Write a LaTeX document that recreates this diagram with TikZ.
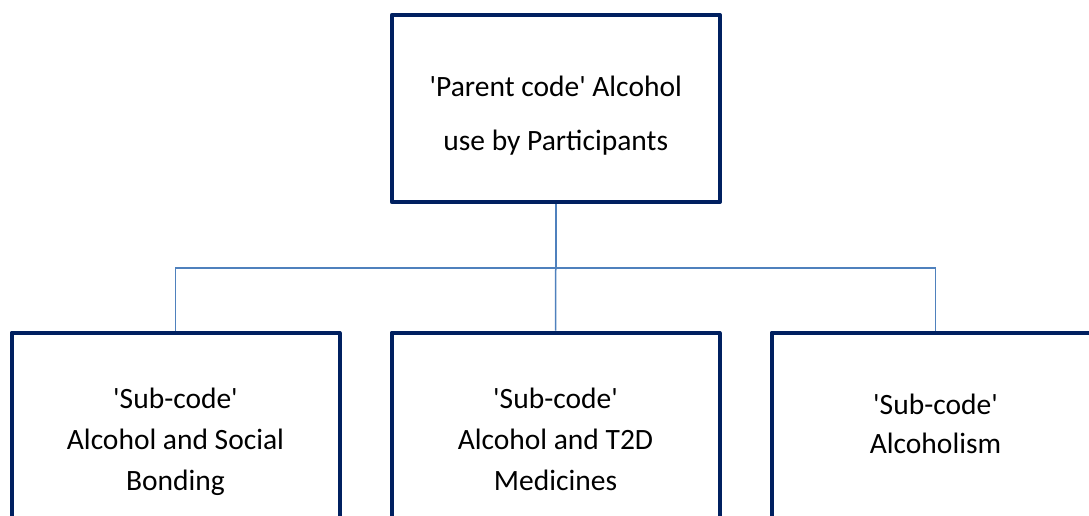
\documentclass[tikz,border=0pt]{standalone}
\usepackage{fontspec}
\setmainfont{Carlito}
\definecolor{boxnavy}{HTML}{002060}
\definecolor{linkblue}{HTML}{4F81BD}
\newcommand{\qs}{\textquotesingle}
\begin{document}
\begin{tikzpicture}[x=1pt,y=-1pt,
  codebox/.style={draw=boxnavy, line width=4pt, line join=round, rectangle,
    minimum width=328pt, minimum height=187pt, inner sep=0pt},
  txt/.style={anchor=base, inner sep=0pt, font=\fontsize{29.5}{34}\selectfont},
  link/.style={draw=linkblue, line width=1.5pt}]
\useasboundingbox (0,0) rectangle (1089,515);
\clip (0,0) rectangle (1089,515);

% parent code box
\node[codebox] (parent) at (555.75,108.5) {};
\node[txt] (p1) at (555.75,96.5) {\qs Parent code\qs{} Alcohol};
\node[txt] (p2) at (555.75,150) {use by Participants};

% sub-code boxes
\node[codebox] (social) at (175.5,426.2) {};
\node[codebox] (t2d) at (555.5,426.2) {};
\node[codebox] (alcoholism) at (935.5,426.2) {};

\node[txt] (s1) at (175.5,408.5) {\qs Sub-code\qs};
\node[txt] (s2) at (175.5,449.5) {Alcohol and Social};
\node[txt] (s3) at (175.5,490.5) {Bonding};

\node[txt] (m1) at (555.5,408.5) {\qs Sub-code\qs};
\node[txt] (m2) at (555.5,449.5) {Alcohol and T2D};
\node[txt] (m3) at (555.5,490.5) {Medicines};

\node[txt] (a1) at (935.5,414) {\qs Sub-code\qs};
\node[txt] (a2) at (935.5,453) {Alcoholism};

% connectors
\coordinate (junction) at (555.75,268);
\draw[link] (parent.south) -- (junction);
\draw[link] (junction) -| (social.north);
\draw[link] (junction) -- (t2d.north);
\draw[link] (junction) -| (alcoholism.north);
\end{tikzpicture}
\end{document}
